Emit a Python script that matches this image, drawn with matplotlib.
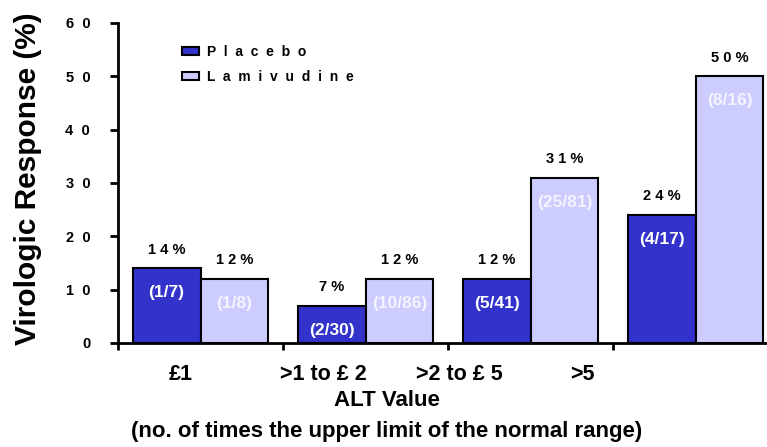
import numpy as np
import matplotlib.pyplot as plt
from matplotlib.transforms import blended_transform_factory

plt.rcParams['font.family'] = ['Liberation Sans', 'DejaVu Sans']
plt.rcParams['font.weight'] = 'bold'

# response rates by baseline ALT group
groups = ['£1', '>1 to £ 2', '>2 to £ 5', '>5']
placebo = [14, 7, 12, 24]
lamivudine = [12, 12, 31, 50]
placebo_n = ['(1/7)', '(2/30)', '(5/41)', '(4/17)']
lamivudine_n = ['(1/8)', '(10/86)', '(25/81)', '(8/16)']
yticks = [0, 10, 20, 30, 40, 50, 60]

dark = '#3333CC'
light = '#CCCCFF'

fig = plt.figure(figsize=(7.67, 4.47), dpi=100)
ax = fig.add_axes([118 / 767, 104 / 447, 649 / 767, 320 / 447])

x = np.arange(len(groups)) + 0.5
w = 0.412
ax.bar(x - w / 2, placebo, w, color=dark, edgecolor='black', linewidth=1.5, label='P  l  a  c  e  b  o', zorder=3)
ax.bar(x + w / 2, lamivudine, w, color=light, edgecolor='black', linewidth=1.5, label='L  a  m  i  v  u  d  i  n  e', zorder=3)

def spaced(s, gap=' '):
    return gap.join(s)

# percentages above, counts inside
for xi, v in zip(x - w / 2, placebo):
    ax.text(xi, v + 2.2, spaced(f'{v}') + ' %', ha='center', va='bottom', fontsize=10.5)
for xi, v in zip(x + w / 2, lamivudine):
    ax.text(xi, v + 2.2, spaced(f'{v}') + ' %', ha='center', va='bottom', fontsize=10.5)
for xi, v, s in zip(x - w / 2, placebo, placebo_n):
    ax.text(xi, v - 4.6, s, ha='center', va='center', fontsize=12.5, color='white')
for xi, v, s in zip(x + w / 2, lamivudine, lamivudine_n):
    ax.text(xi, v - 4.6, s, ha='center', va='center', fontsize=12.5, color='#F4F4FF')

ax.set_xlim(0, 649 / 165)
ax.set_ylim(0, 60)
ax.set_yticks(yticks)
ax.set_yticklabels([spaced(str(t), '  ') for t in yticks], fontsize=10.5)
ax.set_xticks([0, 1, 2, 3])
ax.set_xticklabels([])
ax.tick_params(axis='y', direction='out', length=6, width=2, pad=14)
ax.tick_params(axis='x', direction='out', length=5, width=2)
for side in ['top', 'right']:
    ax.spines[side].set_visible(False)
for side in ['left', 'bottom']:
    ax.spines[side].set_linewidth(2)

# category labels sit a little left of their groups
label_x = [0.378, 1.244, 2.067, 2.817]
trans = blended_transform_factory(ax.transData, fig.transFigure)
for lx, g in zip(label_x, groups):
    ax.text(lx, 1 - 374 / 447, g, transform=trans, ha='center', va='center', fontsize=15.5)

fig.text(387 / 767, 1 - 400 / 447, 'ALT Value', ha='center', va='center', fontsize=16)
fig.text(387 / 767, 1 - 432 / 447, '(no. of times the upper limit of the normal range)',
         ha='center', va='center', fontsize=16)
fig.text(28 / 767, 1 - 179 / 447, 'Virologic Response (%)', rotation=90,
         ha='center', va='center', fontsize=21.5)

ax.legend(loc='upper left', bbox_to_anchor=(182 / 767, 1 - 45 / 447), bbox_transform=fig.transFigure,
          frameon=False, fontsize=10, handlelength=1.2, handleheight=0.55, handletextpad=0.6,
          labelspacing=0.8, borderpad=0, borderaxespad=0)

fig.savefig('out.png', dpi=100)
